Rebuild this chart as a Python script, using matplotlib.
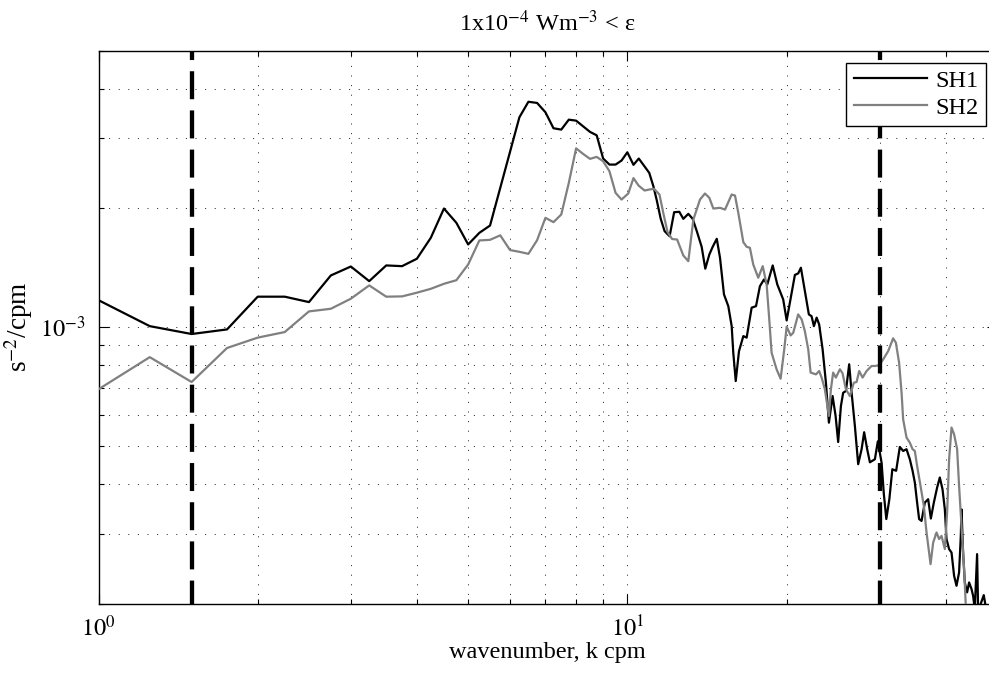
import matplotlib
matplotlib.use("Agg")
import matplotlib.pyplot as plt
from matplotlib.ticker import NullFormatter, LogLocator, FixedLocator, FixedFormatter
import numpy as np

plt.rcParams['font.family'] = ['Liberation Serif', 'DejaVu Serif']
plt.rcParams['mathtext.fontset'] = 'stix'

# Shear spectra (units of 1e-3 s^-2/cpm) versus wavenumber k (cpm)
k_sh1 = [1.0, 1.25, 1.5, 1.75, 2.0, 2.25, 2.5, 2.75, 3.0, 3.25, 3.5, 3.75,
         4.0, 4.25, 4.5, 4.75, 5.0, 5.25, 5.5, 5.75, 6.0, 6.25, 6.5, 6.75,
         7.0, 7.25, 7.5, 7.75, 8.0, 8.25, 8.5, 8.75, 9.0, 9.25, 9.5, 9.75,
         10.0, 10.27, 10.51, 10.75, 11.00, 11.20, 11.37, 11.56, 11.76, 12.02,
         12.26, 12.54, 12.76, 13.04, 13.29, 13.53, 13.82, 14.04, 14.29, 14.50,
         14.76, 14.97, 15.23, 15.52, 15.75, 15.86, 16.03, 16.26, 16.57, 16.81,
         17.18, 17.51, 17.81, 18.13, 18.39, 18.83, 19.21, 19.71, 20.01, 20.34,
         20.74, 21.04, 21.29, 21.66, 22.04, 22.30, 22.53, 22.80, 23.05, 23.40,
         23.74, 24.05, 24.44, 24.76, 25.04, 25.34, 25.59, 25.90, 26.27, 26.55,
         26.93, 27.32, 27.73, 28.04, 28.41, 28.75, 29.38, 29.76, 30.25, 30.55,
         30.88, 31.29, 31.70, 32.23, 32.75, 33.23, 33.72, 34.21, 34.62, 34.96,
         35.31, 35.62, 36.00, 36.52, 37.05, 37.49, 37.98, 38.53, 38.98, 39.44,
         39.84, 40.13, 40.59, 41.02, 41.48, 41.92, 42.39, 42.71, 42.84, 43.14,
         43.46, 43.90, 44.28, 44.75, 45.06, 45.39, 45.85, 46.05, 46.6, 47.2,
         47.8]
s_sh1 = [1.169, 1.005, 0.960, 0.986, 1.193, 1.193, 1.156, 1.350, 1.422, 1.306,
         1.431, 1.425, 1.488, 1.681, 1.993, 1.834, 1.617, 1.730, 1.805, 2.248,
         2.77, 3.39, 3.71, 3.685, 3.49, 3.18, 3.155, 3.343, 3.324, 3.216,
         3.113, 3.052, 2.666, 2.574, 2.574, 2.635,
         2.765, 2.570, 2.666, 2.559, 2.453, 2.269, 2.087, 1.880, 1.747, 1.696,
         1.951, 1.955, 1.877, 1.932, 1.877, 1.747, 1.595, 1.404, 1.525, 1.595,
         1.671, 1.496, 1.209, 1.129, 1.005, 0.861, 0.730, 0.869, 0.9485, 0.940,
         1.119, 1.129, 1.268, 1.319, 1.281, 1.431, 1.281, 1.174, 1.039, 1.174,
         1.354, 1.366, 1.412, 1.232, 1.076, 1.065, 1.005, 1.056, 1.015, 0.878,
         0.723, 0.573, 0.669, 0.596, 0.512, 0.631, 0.682, 0.689, 0.805, 0.682,
         0.562, 0.450, 0.491, 0.542, 0.491, 0.455, 0.463, 0.514, 0.454, 0.378,
         0.327, 0.367, 0.437, 0.433, 0.4975, 0.486, 0.491, 0.463, 0.433, 0.4045,
         0.360, 0.327, 0.3234, 0.360, 0.367, 0.328, 0.360, 0.393, 0.4165, 0.389,
         0.346, 0.291, 0.2745, 0.269, 0.235, 0.2217, 0.2396, 0.2965, 0.346, 0.269,
         0.2261, 0.2134, 0.2261, 0.2175, 0.2092, 0.1935, 0.2666, 0.1935, 0.200, 0.210,
         0.190]

k_sh2 = [1.0, 1.25, 1.5, 1.75, 2.0, 2.25, 2.5, 2.75, 3.0, 3.25, 3.5, 3.75,
         4.0, 4.25, 4.5, 4.75, 5.0, 5.25, 5.5, 5.75, 6.0, 6.25, 6.5, 6.75,
         7.0, 7.25, 7.5, 7.75, 8.0, 8.25, 8.5, 8.75, 9.0, 9.25, 9.5, 9.75,
         10.04, 10.27, 10.50, 10.78, 11.00, 11.23, 11.50, 11.70, 11.91, 12.15,
         12.42, 12.76, 13.04, 13.33, 13.72, 14.02, 14.29, 14.54, 14.97, 15.30,
         15.75, 15.98, 16.21, 16.57, 16.81, 17.05, 17.30, 17.68, 18.03, 18.34,
         18.55, 18.74, 19.15, 19.49, 19.80, 20.01, 20.36, 20.59, 21.04, 21.36,
         21.66, 21.98, 22.21, 22.73, 23.05, 23.30, 23.63, 24.05, 24.26, 24.50,
         24.79, 25.23, 25.52, 25.90, 26.35, 26.81, 27.13, 27.44, 27.85, 28.34,
         28.96, 29.38, 29.93, 30.46, 31.13, 31.81, 32.19, 32.65, 33.00, 33.23,
         33.72, 34.21, 34.62, 34.96, 35.31, 35.84, 36.36, 36.79, 37.44, 37.87,
         38.43, 38.86, 39.27, 39.84, 40.24, 40.59, 41.02, 41.48, 42.03, 42.39,
         42.84, 43.33, 43.65, 44.2]
s_sh2 = [0.696, 0.839, 0.726, 0.885, 0.940, 0.971, 1.095, 1.112, 1.179, 1.274,
         1.193, 1.195, 1.221, 1.249, 1.286, 1.313, 1.439, 1.655, 1.661, 1.705,
         1.565, 1.549, 1.531, 1.657, 1.888, 1.841, 1.925, 2.314, 2.829, 2.738,
         2.661, 2.692, 2.624, 2.476, 2.183, 2.100,
         2.175, 2.379, 2.278, 2.213, 2.226, 2.235, 2.162, 1.936, 1.739, 1.669,
         1.664, 1.516, 1.467, 1.869, 2.100, 2.175, 2.121, 1.993, 2.001, 1.981,
         2.162, 2.149, 1.944, 1.638, 1.595, 1.586, 1.439, 1.332, 1.425, 1.281,
         1.045, 0.861, 0.782, 0.740, 0.878, 1.002, 0.952, 0.967, 1.076, 1.045,
         0.976, 0.878, 0.767, 0.759, 0.774, 0.745, 0.696, 0.596, 0.696, 0.767,
         0.745, 0.782, 0.764, 0.696, 0.669, 0.723, 0.726, 0.774, 0.745, 0.774,
         0.797, 0.797, 0.800, 0.828, 0.869, 0.936, 0.913, 0.812, 0.682, 0.584,
         0.5255, 0.510, 0.491, 0.486, 0.4455, 0.3966, 0.353, 0.3024, 0.2515, 0.2852,
         0.3024, 0.291, 0.2965, 0.2745, 0.3397, 0.463, 0.557, 0.5355, 0.491, 0.3966,
         0.3143, 0.2443, 0.1973, 0.180]

# Wavenumber limits of the integration range
k_limits = [1.5, 30.0]

x_range = [1.0, 50.0]
y_range = [2e-4, 5e-3]

W, H = 989, 677
fig = plt.figure(figsize=(W / 100, H / 100), dpi=100)
ax = fig.add_axes([98.5 / W, (H - 603.5) / H, (997 - 98.5) / W, (603.5 - 50.5) / H])

fs = 17.5
line_sh1, = ax.plot(k_sh1, np.array(s_sh1) * 1e-3, color='k', lw=1.6, label='SH1', zorder=3)
line_sh2, = ax.plot(k_sh2, np.array(s_sh2) * 1e-3, color='#808080', lw=1.6, label='SH2', zorder=3)

for kc in k_limits:
    ax.axvline(kc, ymin=1, ymax=0, color='k', lw=3.1,
               linestyle=(4.4, (6.5, 2.6)), dash_capstyle='butt', zorder=4)

ax.set_xscale('log')
ax.set_yscale('log')
ax.set_xlim(*x_range)
ax.set_ylim(*y_range)

ax.xaxis.set_major_locator(FixedLocator([1, 10]))
ax.xaxis.set_major_formatter(FixedFormatter([r'$10^{0}$', r'$10^{1}$']))
ax.xaxis.set_minor_locator(LogLocator(base=10, subs=np.arange(2, 10)))
ax.xaxis.set_minor_formatter(NullFormatter())
ax.yaxis.set_major_locator(FixedLocator([1e-3]))
ax.yaxis.set_major_formatter(FixedFormatter([r'$10^{-3}$']))
ax.yaxis.set_minor_locator(LogLocator(base=10, subs=np.arange(2, 10)))
ax.yaxis.set_minor_formatter(NullFormatter())

ax.grid(True, which='both', color='0.15', linestyle=(0, (1, 8.6)), linewidth=0.72)
ax.tick_params(which='both', direction='in', top=True, right=True, width=0.8,
               labelsize=fs, pad=9)
ax.tick_params(which='major', length=7.2)
ax.tick_params(which='minor', length=3.6)
for sp in ax.spines.values():
    sp.set_linewidth(1.0)

ax.set_xlabel('wavenumber, k cpm', fontsize=fs, labelpad=0)
ax.set_ylabel(r's$^{-2}$/cpm', fontsize=fs + 2, labelpad=4)
ax.set_title(r'1x10$^{-4}$ Wm$^{-3}$ < ε', fontsize=fs, pad=14)

leg = ax.legend(handles=[line_sh1, line_sh2], loc='upper right',
                bbox_to_anchor=(985.7 / W, 1 - 62.7 / H), bbox_transform=fig.transFigure,
                borderaxespad=0, fancybox=False, framealpha=1, edgecolor='k',
                fontsize=fs, handlelength=3.0, handletextpad=0.35,
                borderpad=0.3, labelspacing=0.2)
leg.get_frame().set_linewidth(1.0)

fig.savefig('out.png', dpi=100)
